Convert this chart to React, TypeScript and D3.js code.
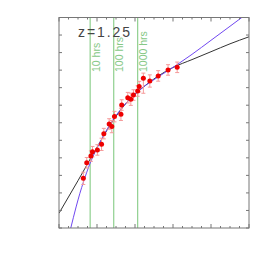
import { useRef, useEffect } from 'react';
import * as d3 from 'd3';

const W = 266;
const H = 266;
const BOX = { left: 59, right: 249, top: 17.5, bottom: 228 };
const GREEN = '#8fd08f';
const GREEN_TEXT = '#86c886';

// measured points
const ptX = [0.64, 0.73, 0.84, 0.88, 1.01, 1.12, 1.18, 1.32, 1.39, 1.46, 1.63, 1.65, 1.81, 1.89, 1.96, 2.07, 2.11, 2.22, 2.39, 2.61, 2.87, 3.11];
const ptY = [2.83, 3.72, 4.1, 4.35, 4.45, 4.77, 5.38, 5.93, 5.78, 6.35, 6.48, 7.01, 7.43, 7.34, 7.58, 7.81, 8.06, 8.53, 8.38, 8.67, 9.01, 9.16];
const errLo = [0.35, 0.3, 0.3, 0.3, 0.3, 0.35, 0.3, 0.3, 0.35, 0.3, 0.35, 0.3, 0.3, 0.35, 0.3, 0.3, 0.3, 0.85, 0.35, 0.3, 0.3, 0.3];
const errHi = [0.35, 0.3, 0.3, 0.3, 0.3, 0.35, 0.3, 0.3, 0.35, 0.3, 0.35, 0.3, 0.3, 0.35, 0.3, 0.3, 0.3, 0.3, 0.35, 0.3, 0.3, 0.3];

// fit curves
const blackX = [0, 0.5, 1.0, 1.4, 1.8, 2.2, 2.6, 3.0, 3.5, 4.0, 4.5, 5.0];
const blackY = [0.84, 2.7, 4.6, 6.05, 7.2, 8.0, 8.65, 9.15, 9.6, 10.05, 10.5, 10.9];
const purpleX = [0.31, 0.45, 0.55, 0.64, 0.82, 1.0, 1.4, 1.8, 2.2, 2.6, 3.1, 3.5, 4.0, 4.5, 4.81, 5.0];
const purpleY = [0, 1.2, 1.98, 2.6, 3.7, 4.55, 6.1, 7.2, 8.0, 8.6, 9.3, 9.9, 10.7, 11.5, 12.0, 12.3];

const hourX = [0.82, 1.44, 2.07];
const hourLabels = ['10 hrs', '100 hrs', '1000 hrs'];

const xMajor = [0, 1, 2, 3, 4, 5];
const xMinor = d3.range(0, 5.001, 0.25);
const yMajor = d3.range(0, 12.001, 1);

export default function App() {
  const svgRef = useRef<SVGSVGElement>(null);

  useEffect(() => {
    const svg = d3.select(svgRef.current);
    svg.selectAll('*').remove();

    const x = d3.scaleLinear().domain([0, 5]).range([BOX.left, BOX.right]);
    const y = d3.scaleLinear().domain([0, 12]).range([BOX.bottom, BOX.top]);

    svg.append('rect').attr('width', W).attr('height', H).attr('fill', '#fff');

    svg.append('clipPath').attr('id', 'plot-clip')
      .append('rect')
      .attr('x', BOX.left).attr('y', BOX.top)
      .attr('width', BOX.right - BOX.left).attr('height', BOX.bottom - BOX.top);

    const g = svg.append('g').attr('clip-path', 'url(#plot-clip)');

    // hour lines
    g.selectAll('.hline')
      .data(hourX)
      .join('line')
      .attr('x1', d => x(d)).attr('x2', d => x(d))
      .attr('y1', BOX.top).attr('y2', BOX.bottom)
      .attr('stroke', GREEN).attr('stroke-width', 1.2);

    svg.selectAll('.hlabel')
      .data(hourX)
      .join('text')
      .attr('transform', d => `translate(${x(d) + 9.5},72) rotate(-90)`)
      .attr('fill', GREEN_TEXT)
      .attr('font-size', 10.5)
      .attr('font-family', 'Liberation Sans, Arial, sans-serif')
      .text((_, i) => hourLabels[i]);

    // curves
    const line = d3.line<[number, number]>()
      .x(d => x(d[0]))
      .y(d => y(d[1]))
      .curve(d3.curveMonotoneX);

    g.append('path')
      .attr('d', line(blackX.map((v, i) => [v, blackY[i]])))
      .attr('fill', 'none').attr('stroke', '#333').attr('stroke-width', 1);

    g.append('path')
      .attr('d', line(purpleX.map((v, i) => [v, purpleY[i]])))
      .attr('fill', 'none').attr('stroke', '#7048f0').attr('stroke-width', 1);

    // error bars
    const eb = g.append('g').attr('stroke', '#f59a9a').attr('stroke-width', 1);
    ptX.forEach((px, i) => {
      const cx = x(px);
      const y0 = y(ptY[i] - errLo[i]);
      const y1 = y(ptY[i] + errHi[i]);
      eb.append('line').attr('x1', cx).attr('x2', cx).attr('y1', y0).attr('y2', y1);
      eb.append('line').attr('x1', cx - 2).attr('x2', cx + 2).attr('y1', y0).attr('y2', y0);
      eb.append('line').attr('x1', cx - 2).attr('x2', cx + 2).attr('y1', y1).attr('y2', y1);
    });

    g.selectAll('.pt')
      .data(ptX)
      .join('circle')
      .attr('cx', d => x(d))
      .attr('cy', (_, i) => y(ptY[i]))
      .attr('r', 2.5)
      .attr('fill', '#ee0000');

    // frame + ticks
    const ax = svg.append('g').attr('stroke', '#777').attr('stroke-width', 1).attr('fill', 'none');
    ax.append('rect')
      .attr('x', BOX.left).attr('y', BOX.top)
      .attr('width', BOX.right - BOX.left).attr('height', BOX.bottom - BOX.top);

    xMinor.forEach(t => {
      const len = xMajor.includes(t) ? 4 : 2;
      ax.append('line').attr('x1', x(t)).attr('x2', x(t)).attr('y1', BOX.bottom).attr('y2', BOX.bottom - len);
      ax.append('line').attr('x1', x(t)).attr('x2', x(t)).attr('y1', BOX.top).attr('y2', BOX.top + len);
    });
    yMajor.forEach(t => {
      ax.append('line').attr('x1', BOX.left).attr('x2', BOX.left + 3).attr('y1', y(t)).attr('y2', y(t));
      ax.append('line').attr('x1', BOX.right).attr('x2', BOX.right - 3).attr('y1', y(t)).attr('y2', y(t));
    });

    svg.append('text')
      .attr('x', 78).attr('y', 37)
      .attr('fill', '#444')
      .attr('font-size', 14)
      .attr('font-family', 'Liberation Sans, Arial, sans-serif')
      .attr('textLength', 52)
      .attr('lengthAdjust', 'spacing')
      .text('z=1.25');
  }, []);

  return (
    <svg ref={svgRef} width={W} height={H}
      style={{ position: 'absolute', left: 0, top: 0, display: 'block' }} />
  );
}
